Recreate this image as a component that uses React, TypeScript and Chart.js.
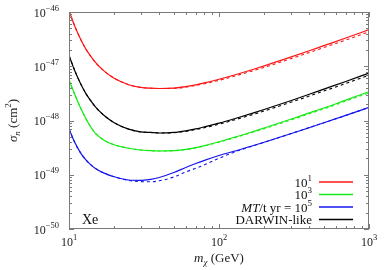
import React, { useEffect, useRef } from "react";
import { Chart, registerables } from "chart.js";

Chart.register(...registerables);

// Dark matter mass (GeV)
const massGeV = [10, 11, 12, 13, 14, 15, 17, 20, 25, 30, 35, 40, 50, 60, 70, 80, 100, 130, 170, 200, 300, 400, 500, 700, 1000];

// log10 of sigma_n (cm^2)
const red10 = [-45.98, -46.28, -46.51, -46.69, -46.82, -46.93, -47.08, -47.22, -47.34, -47.39, -47.405, -47.41, -47.402, -47.376, -47.342, -47.307, -47.24, -47.152, -47.055, -46.993, -46.832, -46.715, -46.621, -46.48, -46.325];
const red10Dashed = [-45.98, -46.28, -46.51, -46.69, -46.82, -46.93, -47.08, -47.22, -47.34, -47.39, -47.405, -47.41, -47.407, -47.386, -47.354, -47.322, -47.26, -47.174, -47.08, -47.021, -46.862, -46.747, -46.655, -46.517, -46.365];
const green1e3 = [-47.253, -47.539, -47.781, -47.972, -48.124, -48.236, -48.358, -48.448, -48.512, -48.544, -48.557, -48.562, -48.554, -48.532, -48.5, -48.463, -48.391, -48.3, -48.2, -48.138, -47.977, -47.86, -47.77, -47.624, -47.469];
const green1e3Dashed = [-47.253, -47.539, -47.781, -47.972, -48.124, -48.236, -48.358, -48.448, -48.512, -48.544, -48.557, -48.562, -48.557, -48.537, -48.506, -48.47, -48.4, -48.311, -48.212, -48.152, -47.992, -47.876, -47.787, -47.642, -47.489];
const blue1e5 = [-48.157, -48.42, -48.605, -48.73, -48.818, -48.883, -48.966, -49.037, -49.097, -49.103, -49.085, -49.051, -48.959, -48.866, -48.793, -48.734, -48.645, -48.557, -48.46, -48.4, -48.245, -48.131, -48.042, -47.906, -47.759];
const blue1e5Dashed = [-48.157, -48.42, -48.605, -48.73, -48.818, -48.883, -48.966, -49.037, -49.106, -49.126, -49.13, -49.112, -49.041, -48.949, -48.881, -48.817, -48.697, -48.571, -48.465, -48.402, -48.245, -48.131, -48.042, -47.906, -47.759];
const darwin = [-46.8, -47.1, -47.33, -47.51, -47.64, -47.75, -47.9, -48.04, -48.16, -48.21, -48.22, -48.23, -48.22, -48.19, -48.155, -48.117, -48.048, -47.958, -47.86, -47.797, -47.635, -47.517, -47.422, -47.281, -47.125];
const darwinDashed = [-46.8, -47.1, -47.33, -47.51, -47.64, -47.75, -47.9, -48.04, -48.16, -48.21, -48.22, -48.23, -48.225, -48.2, -48.167, -48.132, -48.068, -47.98, -47.885, -47.825, -47.665, -47.549, -47.456, -47.318, -47.165];

const xTickExponents = [1, 2, 3];
const yTickExponents = [-46, -47, -48, -49, -50];
const legendLabels = ["10^1", "10^3", "MT/t yr = 10^5", "DARWIN-like"];
const targetLabel = "Xe";

const RED = "rgb(255,20,20)";
const GREEN = "rgb(20,235,20)";
const BLUE = "rgb(20,20,240)";
const BLACK = "rgb(0,0,0)";
const legendColors = [RED, GREEN, BLUE, BLACK];

const SERIF = "'Liberation Serif', 'DejaVu Serif', serif";

type Part = { t: string; font: string; dy?: number };

function richWidth(ctx: CanvasRenderingContext2D, parts: Part[]) {
  let w = 0;
  for (const p of parts) {
    ctx.font = p.font;
    w += ctx.measureText(p.t).width;
  }
  return w;
}

function drawRich(ctx: CanvasRenderingContext2D, parts: Part[], x: number, y: number, align: "left" | "right" | "center") {
  const w = richWidth(ctx, parts);
  let cx = align === "left" ? x : align === "right" ? x - w : x - w / 2;
  ctx.textAlign = "left";
  ctx.textBaseline = "alphabetic";
  for (const p of parts) {
    ctx.font = p.font;
    ctx.fillText(p.t, cx, y + (p.dy || 0));
    cx += ctx.measureText(p.t).width;
  }
}

function expParts(exp: number): Part[] {
  const e = exp < 0 ? "\u2212" + String(-exp) : String(exp);
  return [
    { t: "10", font: `12px ${SERIF}` },
    { t: e, font: `8.5px ${SERIF}`, dy: -6 },
  ];
}

function legendParts(label: string): Part[] {
  const norm = `13px ${SERIF}`;
  const sup = `9px ${SERIF}`;
  if (label.startsWith("MT")) {
    const rest = label.slice(2);
    const [base, exp] = rest.split("^");
    return [
      { t: "MT", font: `italic 13px ${SERIF}` },
      { t: base, font: norm },
      { t: exp, font: sup, dy: -6 },
    ];
  }
  if (label.includes("^")) {
    const [base, exp] = label.split("^");
    return [
      { t: base, font: norm },
      { t: exp, font: sup, dy: -6 },
    ];
  }
  return [{ t: label, font: norm }];
}

const decorPlugin = {
  id: "decor",
  afterDraw(chart: any) {
    const { ctx, chartArea: a, scales } = chart;
    const xs = scales.x;
    const ys = scales.y;
    ctx.save();
    // frame
    ctx.strokeStyle = "#7a7a7a";
    ctx.lineWidth = 1;
    ctx.strokeRect(a.left + 0.5, a.top + 0.5, a.right - a.left - 1, a.bottom - a.top - 1);

    // x ticks (bottom and top, inward)
    ctx.beginPath();
    for (let d = 0; d < xTickExponents.length; d++) {
      const dec = Math.pow(10, xTickExponents[d]);
      for (let k = 1; k <= 9; k++) {
        const v = k * dec;
        if (v > 1000.0001) break;
        const px = Math.round(xs.getPixelForValue(v)) + 0.5;
        const len = k === 1 ? 5 : 3;
        ctx.moveTo(px, a.bottom);
        ctx.lineTo(px, a.bottom - len);
        ctx.moveTo(px, a.top);
        ctx.lineTo(px, a.top + len);
      }
    }
    // y ticks (left and right)
    for (let e = -50; e <= -46; e++) {
      const dec = Math.pow(10, e);
      for (let k = 1; k <= 9; k++) {
        const v = k * dec;
        if (e === -46 && k > 1) break;
        const py = Math.round(ys.getPixelForValue(v)) + 0.5;
        const len = k === 1 ? 5 : 3;
        ctx.moveTo(a.left, py);
        ctx.lineTo(a.left + len, py);
        ctx.moveTo(a.right, py);
        ctx.lineTo(a.right - len, py);
      }
    }
    ctx.stroke();

    ctx.fillStyle = "#222";
    // x tick labels
    for (const e of xTickExponents) {
      const px = xs.getPixelForValue(Math.pow(10, e));
      drawRich(ctx, expParts(e), px, a.bottom + 17, "center");
    }
    // y tick labels
    for (const e of yTickExponents) {
      const py = ys.getPixelForValue(Math.pow(10, e));
      drawRich(ctx, expParts(e), a.left - 10, py + 4.5, "right");
    }

    // x title
    drawRich(
      ctx,
      [
        { t: "m", font: `italic 13px ${SERIF}` },
        { t: "\u03c7", font: `italic 9px ${SERIF}`, dy: 3 },
        { t: " (GeV)", font: `13px ${SERIF}` },
      ],
      (a.left + a.right) / 2,
      262,
      "center"
    );

    // y title
    ctx.save();
    ctx.translate(17, (a.top + a.bottom) / 2);
    ctx.rotate(-Math.PI / 2);
    drawRich(
      ctx,
      [
        { t: "\u03c3", font: `italic 13px ${SERIF}` },
        { t: "n", font: `italic 9px ${SERIF}`, dy: 3 },
        { t: " (cm", font: `13px ${SERIF}` },
        { t: "2", font: `9px ${SERIF}`, dy: -6 },
        { t: ")", font: `13px ${SERIF}` },
      ],
      0,
      0,
      "center"
    );
    ctx.restore();

    // target label
    ctx.fillStyle = "#111";
    ctx.font = `14px ${SERIF}`;
    ctx.textAlign = "left";
    ctx.fillText(targetLabel, a.left + 13, a.bottom - 5);

    // legend
    const rowY = [182, 194.5, 207, 219.5];
    for (let i = 0; i < legendLabels.length; i++) {
      const y = rowY[i];
      ctx.fillStyle = "#111";
      drawRich(ctx, legendParts(legendLabels[i]), 312, y + 4.5, "right");
      ctx.strokeStyle = legendColors[i];
      ctx.lineWidth = 1.5;
      ctx.beginPath();
      ctx.moveTo(319, y);
      ctx.lineTo(353, y);
      ctx.stroke();
    }
    ctx.restore();
  },
};

function toData(vals: number[]) {
  return massGeV.map((m, i) => ({ x: m, y: Math.pow(10, vals[i]) }));
}

export default function App() {
  const ref = useRef<HTMLCanvasElement | null>(null);
  useEffect(() => {
    if (!ref.current) return;
    const mk = (vals: number[], color: string, dashed: boolean) => ({
      data: toData(vals),
      borderColor: color,
      borderWidth: dashed ? 1.1 : 1.2,
      borderDash: dashed ? [3, 3] : [],
      pointRadius: 0,
      fill: false,
      cubicInterpolationMode: "monotone" as const,
    });
    const chart = new Chart(ref.current, {
      type: "line",
      data: {
        datasets: [
          mk(red10Dashed, RED, true),
          mk(darwinDashed, BLACK, true),
          mk(green1e3Dashed, GREEN, true),
          mk(blue1e5Dashed, BLUE, true),
          mk(red10, RED, false),
          mk(darwin, BLACK, false),
          mk(green1e3, GREEN, false),
          mk(blue1e5, BLUE, false),
        ],
      },
      options: {
        responsive: false,
        animation: false,
        layout: { padding: { left: 69, top: 12, right: 21, bottom: 41 } },
        plugins: { legend: { display: false }, tooltip: { enabled: false } },
        scales: {
          x: { type: "logarithmic", min: 10, max: 1000, display: false },
          y: { type: "logarithmic", min: 1e-50, max: 1e-46, display: false },
        },
      },
      plugins: [decorPlugin],
    });
    return () => chart.destroy();
  }, []);
  return (
    <div style={{ position: "fixed", left: 0, top: 0, width: 390, height: 270, background: "#fff" }}>
      <canvas ref={ref} width={390} height={270} style={{ width: 390, height: 270 }} />
    </div>
  );
}
